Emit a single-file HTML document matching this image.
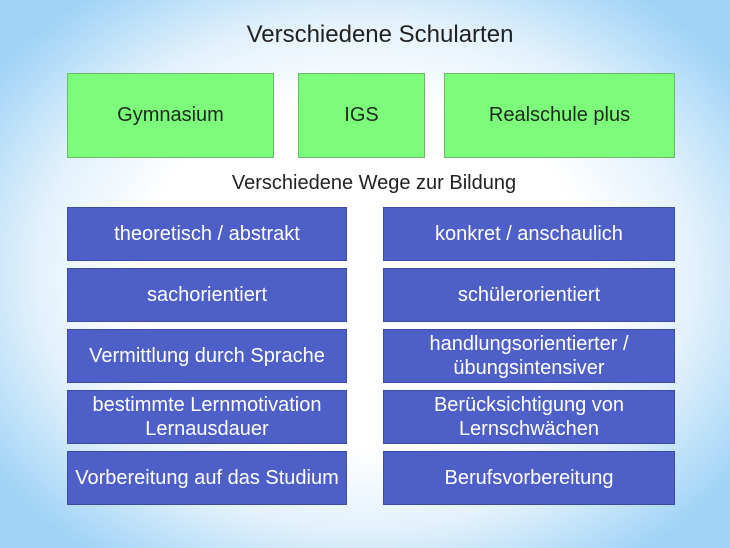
<!DOCTYPE html>
<html><head><style>
body{margin:0;width:730px;height:548px;overflow:hidden;font-family:"Liberation Sans",sans-serif;
background:radial-gradient(ellipse 62% 64% at 50% 50%,#ffffff 50%,#e4f2fc 72%,#9fd3f6 100%);position:relative}
.t{position:absolute;width:730px;text-align:center;color:#222}
.b{position:absolute;display:flex;align-items:center;justify-content:center;text-align:center;box-sizing:border-box}
.g{background:#7dfb7b;border:1px solid #6bb86a;color:#1c2a1c;font-size:20px}
.u{background:#4f5fc8;border:1px solid #3d4aa6;color:#fff;font-size:20px;line-height:24px}
</style></head><body>
<div class="t" style="top:21px;left:15px;font-size:24px">Verschiedene Schularten</div>
<div class="b g" style="left:67px;top:73px;width:207px;height:85px">Gymnasium</div>
<div class="b g" style="left:298px;top:73px;width:127px;height:85px">IGS</div>
<div class="b g" style="left:444px;top:73px;width:231px;height:85px">Realschule plus</div>
<div class="t" style="top:172px;left:9px;font-size:20px">Verschiedene Wege zur Bildung</div>
<div class="b u" style="left:67px;top:207px;width:280px;height:54px">theoretisch / abstrakt</div>
<div class="b u" style="left:67px;top:268px;width:280px;height:54px">sachorientiert</div>
<div class="b u" style="left:67px;top:329px;width:280px;height:54px">Vermittlung durch Sprache</div>
<div class="b u" style="left:67px;top:390px;width:280px;height:54px">bestimmte Lernmotivation<br>Lernausdauer</div>
<div class="b u" style="left:67px;top:451px;width:280px;height:54px">Vorbereitung auf das Studium</div>
<div class="b u" style="left:383px;top:207px;width:292px;height:54px">konkret / anschaulich</div>
<div class="b u" style="left:383px;top:268px;width:292px;height:54px">schülerorientiert</div>
<div class="b u" style="left:383px;top:329px;width:292px;height:54px">handlungsorientierter /<br>übungsintensiver</div>
<div class="b u" style="left:383px;top:390px;width:292px;height:54px">Berücksichtigung von<br>Lernschwächen</div>
<div class="b u" style="left:383px;top:451px;width:292px;height:54px">Berufsvorbereitung</div>
</body></html>
